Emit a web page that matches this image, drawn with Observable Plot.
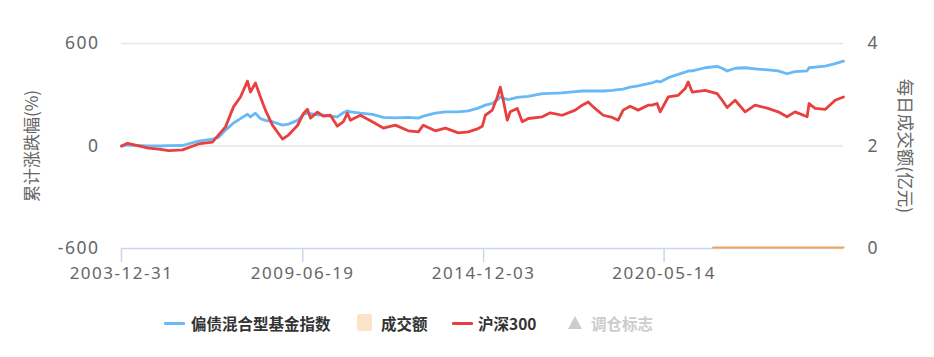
<!DOCTYPE html>
<html>
<head>
<meta charset="utf-8">
<script src="https://cdn.jsdelivr.net/npm/d3@7"></script>
<script src="https://cdn.jsdelivr.net/npm/@observablehq/plot@0.6"></script>
<style>
  body { margin: 0; background: #fff; }
  #wrap { position: relative; width: 934px; height: 357px; font-family: "Noto Sans", "Noto Sans CJK SC", sans-serif; }
  #legend { position: absolute; left: 0; top: 290px; width: 934px; height: 67px; }
  .li { position: absolute; top: 22px; height: 22px; line-height: 22px; font-size: 15.5px; font-weight: bold; color: #333; white-space: nowrap; font-family: "Noto Sans CJK SC", "Noto Sans", sans-serif; }
  .sw { position: absolute; }
  #chart svg g[aria-label="x-axis tick label"] text { font-size: 17px !important; letter-spacing: 1.5px; font-family: "Noto Sans" !important; }
  #chart svg g[aria-label="y-axis tick label"] text { font-size: 17.5px !important; letter-spacing: 1.5px; font-family: "Noto Sans" !important; }
</style>
</head>
<body>
<div id="wrap"><div id="chart"></div><div id="legend"></div></div>
<script>
const dates = ["2003-12-31","2004-03-06","2004-06-04","2004-10-24","2005-03-05","2005-06-02","2005-11-02","2006-04-27","2006-09-28","2006-12-03","2007-02-19","2007-05-18","2007-08-03","2007-10-19","2007-11-21","2008-01-15","2008-03-10","2008-05-04","2008-07-20","2008-11-08","2009-01-13","2009-04-22","2009-06-27","2009-08-10","2009-09-12","2009-11-28","2010-02-02","2010-04-20","2010-07-06","2010-09-10","2010-10-24","2010-11-26","2011-03-16","2011-07-26","2011-11-24","2012-04-04","2012-08-26","2012-12-14","2013-02-07","2013-06-19","2013-10-08","2014-02-28","2014-06-18","2014-09-25","2014-11-19","2014-12-22","2015-03-09","2015-05-03","2015-06-05","2015-07-08","2015-08-21","2015-09-23","2015-12-09","2016-02-02","2016-04-09","2016-09-10","2016-12-07","2017-04-18","2017-09-08","2017-11-24","2018-01-29","2018-03-25","2018-07-13","2018-10-21","2018-12-25","2019-02-18","2019-05-06","2019-08-02","2019-11-20","2020-01-03","2020-02-27","2020-04-01","2020-06-29","2020-10-17","2021-01-02","2021-02-04","2021-03-20","2021-08-10","2021-12-20","2022-02-13","2022-04-09","2022-07-06","2022-10-24","2023-02-11","2023-07-04","2023-10-22","2024-01-29","2024-04-26","2024-09-06","2024-09-28","2024-12-03","2025-03-24","2025-07-12","2025-10-12"];
const fundIndex = [0,6,3,0,0,2,3,29,40,50,93,135,160,186,170,192,160,150,142,122,128,150,185,192,190,182,180,175,171,195,206,200,192,185,168,165,167,163,175,192,200,200,206,220,232,239,250,270,287,280,272,275,285,287,290,307,308,311,318,322,322,322,322,326,330,333,345,352,365,370,380,375,400,419,432,439,440,458,466,455,439,455,458,452,445,440,423,435,440,458,462,468,482,497];
const csi300 = [0,16,5,-12,-20,-27,-23,12,23,64,112,229,287,380,316,369,287,210,122,41,64,120,190,215,163,198,175,180,116,142,192,151,180,142,105,122,89,83,122,89,105,77,83,100,115,180,210,287,345,268,151,200,220,142,161,171,194,180,210,239,258,229,180,167,151,210,233,210,239,239,249,200,287,297,336,375,316,326,307,268,225,268,200,239,220,200,171,200,171,249,220,214,268,287];
const volDates = ["2021-11-05","2023-06-01","2025-10-12"];
const volume = [0.02,0.02,0.02];
const leftTicks = [-600, 0, 600];
const rightTicks = [0, 2, 4];
const xTickLabels = ["2003-12-31","2009-06-19","2014-12-03","2020-05-14"];
const seriesNames = ["偏债混合型基金指数","成交额","沪深300","调仓标志"];
const leftTitle = "累计涨跌幅(%)";
const rightTitle = "每日成交额(亿元)";

const parse = d3.utcParse("%Y-%m-%d");
const fmt = d3.utcFormat("%Y-%m-%d");
const toLeft = v => (v - 2) * 300;          // right-axis value -> left scale
const fromLeft = v => v / 300 + 2;

const fundData = dates.map((d, i) => ({date: parse(d), value: fundIndex[i]}));
const csiData = dates.map((d, i) => ({date: parse(d), value: csi300[i]}));
const volData = volDates.map((d, i) => ({date: parse(d), value: volume[i]}));

const tickFont = {fill: "#666", fontSize: 17, fontFamily: "Noto Sans"};

const chart = Plot.plot({
  width: 934, height: 290,
  marginLeft: 121, marginRight: 91, marginTop: 43, marginBottom: 42,
  x: {type: "utc", domain: [parse(dates[0]), parse(dates[dates.length - 1])]},
  y: {domain: [-600, 600]},
  style: {fontFamily: "Noto Sans", fontSize: "17px", background: "#fff", overflow: "visible"},
  marks: [
    Plot.gridY(leftTicks.filter(v => v > -600), {stroke: "#e6e6e6", strokeOpacity: 1, strokeWidth: 1.5}),
    Plot.ruleY([-600], {stroke: "#ccd6eb", strokeWidth: 1.5}),
    Plot.axisX(xTickLabels.map(parse), {tickSize: 14, tickPadding: 4, stroke: "#ccd6eb", strokeWidth: 1.5, strokeOpacity: 1, tickFormat: fmt, ...tickFont, label: null}),
    Plot.axisY(leftTicks, {anchor: "left", tickSize: 0, tickPadding: 22, tickFormat: d => String(d), ...tickFont, label: null}),
    Plot.axisY(rightTicks.map(toLeft), {anchor: "right", tickSize: 0, tickPadding: 24, tickFormat: v => String(Math.round(fromLeft(v))), ...tickFont, label: null}),
    Plot.text([leftTitle], {frameAnchor: "left", textAnchor: "middle", dx: -89, rotate: -90, fill: "#666", fontSize: 17, fontFamily: "Noto Sans CJK SC"}),
    Plot.text([rightTitle], {frameAnchor: "right", textAnchor: "middle", dx: 61, rotate: 90, fill: "#666", fontSize: 17.5, fontFamily: "Noto Sans CJK SC"}),
    Plot.lineY(volData, {x: "date", y: d => toLeft(d.value), stroke: "#f5a35c", strokeWidth: 2}),
    Plot.lineY(fundData, {x: "date", y: "value", stroke: "#67baf5", strokeWidth: 2.8}),
    Plot.lineY(csiData, {x: "date", y: "value", stroke: "#e8403e", strokeWidth: 2.8})
  ]
});
document.getElementById("chart").appendChild(chart);

// legend
const legend = document.getElementById("legend");
const items = [
  {name: seriesNames[0], kind: "line", color: "#67baf5", sx: 164, tx: 191, textColor: "#333"},
  {name: seriesNames[1], kind: "rect", color: "#fde2cb", sx: 357, tx: 381, textColor: "#333"},
  {name: seriesNames[2], kind: "line", color: "#e8403e", sx: 452, tx: 478, textColor: "#333"},
  {name: seriesNames[3], kind: "tri", color: "#cccccc", sx: 568, tx: 591, textColor: "#cccccc"}
];
for (const it of items) {
  const sw = document.createElement("div");
  sw.className = "sw";
  if (it.kind === "line") {
    Object.assign(sw.style, {left: it.sx + "px", top: "32px", width: "21px", height: "3px", background: it.color, borderRadius: "1px"});
  } else if (it.kind === "rect") {
    Object.assign(sw.style, {left: it.sx + "px", top: "24px", width: "15px", height: "17px", background: it.color, borderRadius: "2px"});
  } else {
    Object.assign(sw.style, {left: it.sx + "px", top: "26px", width: "0", height: "0", borderLeft: "7px solid transparent", borderRight: "7px solid transparent", borderBottom: "13px solid " + it.color});
  }
  legend.appendChild(sw);
  const t = document.createElement("div");
  t.className = "li";
  t.style.left = it.tx + "px";
  t.style.color = it.textColor;
  t.textContent = it.name;
  legend.appendChild(t);
}
</script>
</body>
</html>
